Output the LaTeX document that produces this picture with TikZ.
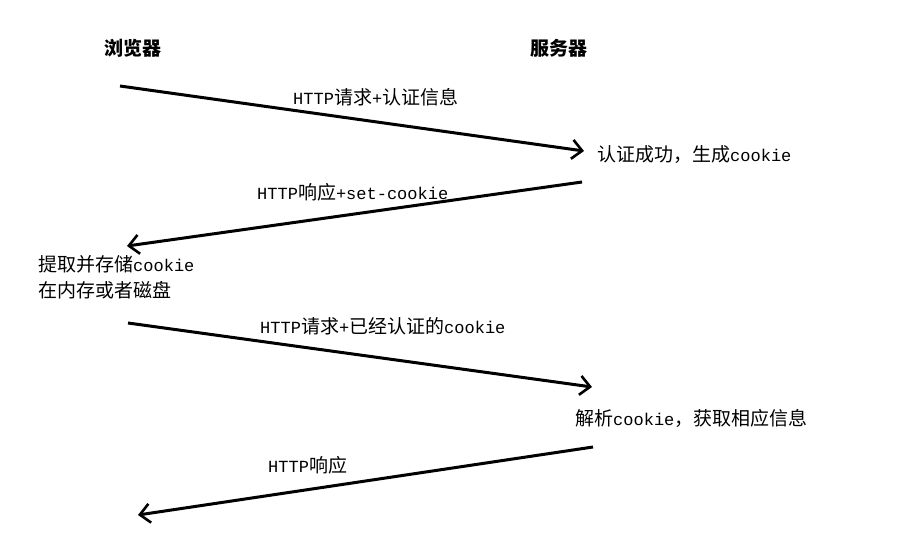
\documentclass[tikz,border=0pt]{standalone}
\usepackage{fontspec}
\usetikzlibrary{arrows.meta}
\newfontfamily\cjk{Noto Sans CJK SC}
\newfontfamily\monofnt{Liberation Mono}
\newcommand\lat[1]{{\fontsize{17}{18}\selectfont\monofnt #1}}
\tikzset{
  lbl/.style={font=\fontsize{19}{20}\selectfont\cjk, anchor=west, inner sep=0pt},
  head/.style={font=\fontsize{19}{20}\selectfont\cjk\bfseries, inner sep=0pt},
  msg/.style={line width=3pt, -{Straight Barb[length=10pt,width=19pt,line width=2.6pt]}}
}
\begin{document}
\begin{tikzpicture}[x=1pt,y=-1pt]
\useasboundingbox[fill=white] (0,0) rectangle (913,549);
\node[head] (browser) at (133,48) {浏览器};
\node[head] (server) at (559,48) {服务器};
% arrow 1
\coordinate (a1s) at (120,86);
\coordinate (a1e) at (584,151);
\draw[msg] (a1s) -- (a1e);
\node[lbl] (l1) at (293,97) {\lat{HTTP}请求\lat{+}认证信息};
\node[lbl] (s1) at (597,155) {认证成功，生成\lat{cookie}};
% arrow 2
\coordinate (a2s) at (582,182);
\coordinate (a2e) at (127,246);
\draw[msg] (a2s) -- (a2e);
\node[lbl] (l2) at (257,192) {\lat{HTTP}响应\lat{+set-cookie}};
\node[lbl] (b1) at (38,264) {提取并存储\lat{cookie}};
\node[lbl] (b2) at (38,290) {在内存或者磁盘};
% arrow 3
\coordinate (a3s) at (128,323);
\coordinate (a3e) at (592,387);
\draw[msg] (a3s) -- (a3e);
\node[lbl] (l3) at (260,326) {\lat{HTTP}请求\lat{+}已经认证的\lat{cookie}};
\node[lbl] (s2) at (575,418) {解析\lat{cookie}，获取相应信息};
% arrow 4
\coordinate (a4s) at (593,447);
\coordinate (a4e) at (138,515);
\draw[msg] (a4s) -- (a4e);
\node[lbl] (l4) at (268,465) {\lat{HTTP}响应};
\end{tikzpicture}
\end{document}
